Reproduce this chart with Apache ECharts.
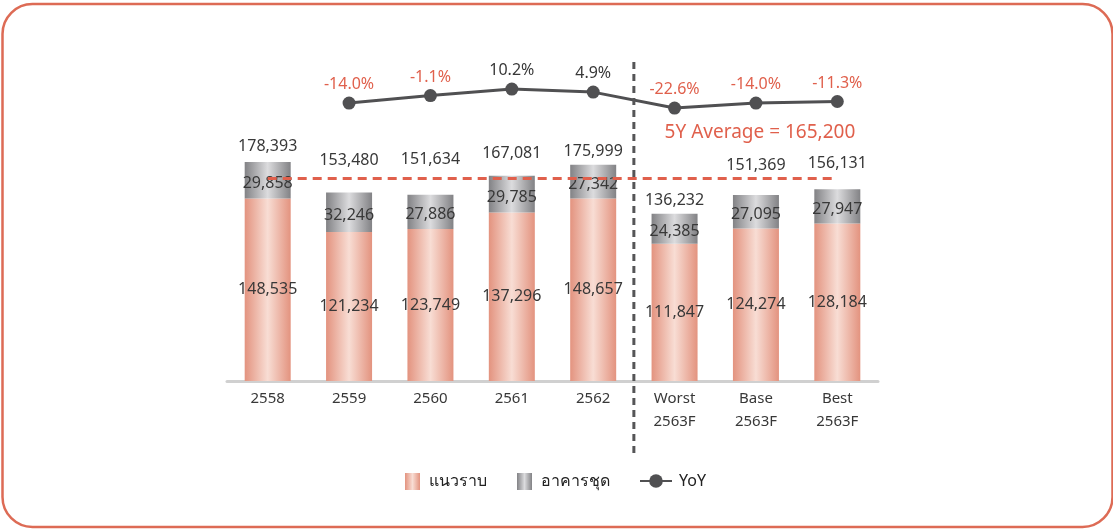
<!DOCTYPE html>
<html>
<head>
    <meta charset="utf-8">
    <title>แนวราบ / อาคารชุด</title>
    <script src="https://cdn.jsdelivr.net/npm/echarts@6/dist/echarts.min.js"></script>
    <style>
        html, body { margin: 0; padding: 0; background: #fff; }
        #chart { width: 1113px; height: 529px; }
    </style>
</head>
<body>
<div id="chart"></div>
<script type="text/javascript">
    // ข้อมูล
    let categories = ['2558', '2559', '2560', '2561', '2562', 'Worst\n2563F', 'Base\n2563F', 'Best\n2563F'];
    let lowRise = [148535, 121234, 123749, 137296, 148657, 111847, 124274, 128184];
    let condo = [29858, 32246, 27886, 29785, 27342, 24385, 27095, 27947];
    let totals = [178393, 153480, 151634, 167081, 175999, 136232, 151369, 156131];
    let yoy = [null, -14.0, -1.1, 10.2, 4.9, -22.6, -14.0, -11.3];
    let average5y = 165200;

    // label lift above each bar top (px), the original places them by hand
    let totalLift = [15, 32, 35, 22, 13, 13, 30, 26];

    let textColor = '#383838';
    let red = '#e0604c';
    let font = '"Noto Sans", "DejaVu Sans", sans-serif';

    let pinkFill = new echarts.graphic.LinearGradient(0, 0, 1, 0, [
        {offset: 0, color: '#e3937f'},
        {offset: 0.5, color: '#f8ddd4'},
        {offset: 1, color: '#e3937f'}
    ]);
    let greyFill = new echarts.graphic.LinearGradient(0, 0, 1, 0, [
        {offset: 0, color: '#828285'},
        {offset: 0.5, color: '#dcdcde'},
        {offset: 1, color: '#828285'}
    ]);

    let fmt = function (v) {
        return v.toLocaleString('en-US');
    };

    let myChart = echarts.init(document.getElementById('chart'));

    let option = {
        animation: false,
        textStyle: {fontFamily: font},
        grid: [
            {left: 227, right: 235, top: 74, bottom: 148},
            {left: 227, right: 235, top: 77.6, height: 40.5}
        ],
        legend: [{
            top: 468,
            left: 400,
            itemGap: 30,
            itemWidth: 15,
            itemHeight: 17,
            textStyle: {fontSize: 16, color: '#222', fontFamily: font, padding: [0, 0, 0, 4]},
            data: [
                {name: 'แนวราบ', icon: 'rect'},
                {name: 'อาคารชุด', icon: 'rect'}
            ]
        }, {
            top: 468,
            left: 634,
            itemWidth: 32,
            itemHeight: 17,
            textStyle: {fontSize: 16, color: '#222', fontFamily: font, padding: [0, 0, 0, 2]},
            data: ['YoY']
        }],
        xAxis: [{
            type: 'category',
            data: categories,
            gridIndex: 0,
            axisLine: {lineStyle: {color: '#d0d0d0', width: 3}},
            axisTick: {show: false},
            axisLabel: {color: textColor, fontSize: 15, lineHeight: 23, margin: 6, fontFamily: font}
        }, {
            type: 'category',
            data: categories,
            gridIndex: 1,
            show: false
        }],
        yAxis: [{
            type: 'value',
            gridIndex: 0,
            min: 0,
            max: 250000,
            show: false
        }, {
            type: 'value',
            gridIndex: 1,
            min: -40,
            max: 30,
            show: false
        }],
        series: [{
            name: 'แนวราบ',
            type: 'bar',
            stack: 'total',
            barWidth: 46,
            data: lowRise,
            itemStyle: {color: pinkFill},
            label: {
                show: true,
                position: 'inside',
                color: textColor,
                fontSize: 16,
                fontFamily: font,
                formatter: p => fmt(p.value)
            }
        }, {
            name: 'อาคารชุด',
            type: 'bar',
            stack: 'total',
            barWidth: 46,
            data: condo,
            itemStyle: {color: greyFill},
            label: {
                show: true,
                position: 'inside',
                offset: [0, 3],
                color: textColor,
                fontSize: 16,
                fontFamily: font,
                formatter: p => fmt(p.value)
            },
            markLine: {
                silent: true,
                symbol: 'none',
                label: {show: false},
                lineStyle: {color: red, type: [9, 6], width: 3},
                data: [[
                    {xAxis: 0, yAxis: average5y},
                    {xAxis: 7, yAxis: average5y}
                ]]
            }
        }, {
            // ยอดรวม
            name: 'total',
            type: 'scatter',
            symbolSize: 0,
            itemStyle: {opacity: 1},
            data: totals.map((v, i) => ({
                value: v,
                label: {offset: [0, -totalLift[i]]}
            })),
            label: {
                show: true,
                position: 'inside',
                color: textColor,
                opacity: 1,
                fontSize: 16,
                fontFamily: font,
                formatter: p => fmt(p.value)
            },
            z: 5
        }, {
            name: 'YoY',
            type: 'line',
            xAxisIndex: 1,
            yAxisIndex: 1,
            data: yoy.map(v => v === null ? null : {
                value: v,
                label: {color: v < 0 ? red : textColor}
            }),
            symbol: 'circle',
            symbolSize: 13,
            lineStyle: {color: '#505052', width: 3},
            itemStyle: {color: '#505052'},
            label: {
                show: true,
                position: 'top',
                distance: 4,
                fontSize: 16,
                fontFamily: font,
                formatter: p => p.value.toFixed(1) + '%'
            }
        }]
    };

    myChart.setOption(option);

    // เส้นแบ่งจริง / ประมาณการ และกรอบ
    let p4 = myChart.convertToPixel({xAxisIndex: 0}, 4);
    let p5 = myChart.convertToPixel({xAxisIndex: 0}, 5);
    let p6 = myChart.convertToPixel({xAxisIndex: 0}, 6);
    let divX = (p4 + p5) / 2;

    myChart.setOption({
        graphic: [{
            type: 'rect',
            shape: {x: 2.5, y: 4, width: 1110, height: 523, r: 30},
            style: {fill: 'none', stroke: '#dd6b55', lineWidth: 2.5},
            silent: true
        }, {
            type: 'line',
            shape: {x1: divX, y1: 62, x2: divX, y2: 456},
            style: {stroke: '#555557', lineWidth: 3, lineDash: [7, 5]},
            z: 10
        }, {
            type: 'text',
            x: p6 + 4,
            y: 133,
            style: {
                text: '5Y Average = ' + fmt(average5y),
                fill: red,
                font: '19px ' + font,
                textAlign: 'center',
                textVerticalAlign: 'middle'
            }
        }]
    });
</script>
</body>
</html>
